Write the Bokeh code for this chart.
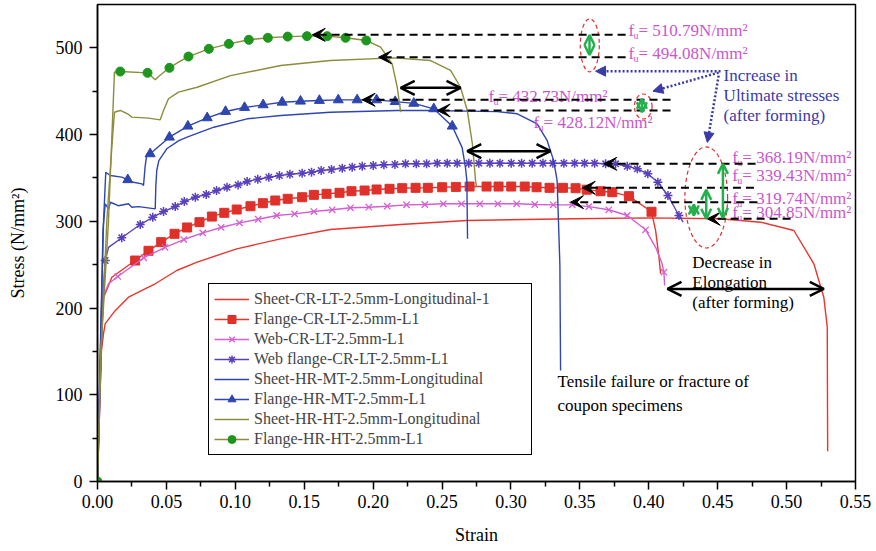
from bokeh.plotting import figure
from bokeh.models import (Range1d, FixedTicker, Legend, LegendItem, Arrow,
                          VeeHead, OpenHead, NormalHead, ColumnDataSource)
from bokeh.core.properties import value
from bokeh.embed import file_html
from bokeh.resources import INLINE

FONT = "Liberation Serif"

# ---------------- data (strain, stress N/mm2) ----------------
# Sheet-CR-LT-2.5mm-Longitudinal-1
s1_x = [0, 0.0015, 0.0028, 0.0045, 0.0056, 0.0128, 0.0225, 0.037, 0.0419, 0.0575, 0.0723, 0.101,
        0.1328, 0.169, 0.22, 0.268, 0.3457, 0.40, 0.452, 0.481, 0.5053, 0.5198, 0.527, 0.5295, 0.5298]
s1_y = [0, 80, 150, 172, 182, 197, 212.5, 224, 228, 243.3, 253, 268.3,
        279.8, 290.5, 296.3, 301, 303, 304, 303, 299, 289.4, 251, 212.5, 178, 35]

# Flange-CR-LT-2.5mm-L1 (markers = squares)
s2_mx = [0.0273, 0.037, 0.0462, 0.0559, 0.065, 0.074, 0.083, 0.092, 0.101, 0.111, 0.120, 0.129, 0.138,
         0.1485, 0.157, 0.1662, 0.1756, 0.1843, 0.1938, 0.2025, 0.2119, 0.2211, 0.2308, 0.2397, 0.2501,
         0.26, 0.27, 0.2823, 0.291, 0.3002, 0.31, 0.3186, 0.328, 0.3377, 0.3469, 0.355, 0.365, 0.3735,
         0.3856, 0.402]
s2_my = [254.8, 266, 276, 285.6, 292.9, 299, 305.5, 309.8, 313.6, 317.4, 320.9, 324, 326,
         327.8, 330.5, 331.7, 332.9, 334.7, 335.5, 336.7, 337.5, 338.2, 338.6, 338.6, 339.3,
         339.7, 340.1, 340.1, 340.1, 340.1, 340.1, 339.3, 338.6, 338.6, 338.2, 336.5, 334.7, 333.6,
         329, 311]
s2_x = [0, 0.0015, 0.003, 0.0044, 0.0104] + s2_mx + [0.405, 0.4074, 0.4086]
s2_y = [0, 95, 170, 212, 235.5] + s2_my + [289, 258.6, 239.5]

# Web-CR-LT-2.5mm-L1 (markers = x)
s3_mx = [0.0147, 0.0336, 0.049, 0.0626, 0.0764, 0.0897, 0.103, 0.1166, 0.13, 0.143, 0.157, 0.1703,
         0.1836, 0.1969, 0.2102, 0.2242, 0.2375, 0.2509, 0.2641, 0.2774, 0.2905, 0.3041, 0.3173,
         0.3307, 0.3445, 0.3566, 0.371, 0.3844, 0.3977, 0.411]
s3_my = [236.4, 258, 270, 279, 286.7, 292.9, 298.2, 302.4, 306.7, 308.6, 311.3, 313.3,
         315.6, 316.3, 317.4, 319, 319.4, 320.2, 320.2, 320.2, 320.2, 320.2, 319.4,
         319, 319, 317, 313.3, 306.7, 290.2, 241.3]
s3_x = [0, 0.0015, 0.0031, 0.008] + s3_mx[:-1] + [0.405, 0.4095, 0.411, 0.4115]
s3_y = [0, 100, 208.7, 228] + s3_my[:-1] + [270, 252, 241.3, 226]

# Web flange-CR-LT-2.5mm-L1 (markers = asterisk)
s4_mx = [0.0056, 0.0176, 0.031, 0.0401, 0.0479, 0.0564, 0.063, 0.071, 0.0789, 0.0864, 0.094, 0.102,
         0.1086, 0.1163, 0.1243, 0.132, 0.1396, 0.1485, 0.1553, 0.1623, 0.1698, 0.1776, 0.1848, 0.1921,
         0.2001, 0.2078, 0.2158, 0.2235, 0.2313, 0.2388, 0.2465, 0.2538, 0.261, 0.2694, 0.2767, 0.2847,
         0.292, 0.3002, 0.3077, 0.3154, 0.3232, 0.3304, 0.3384, 0.3462, 0.3534, 0.3607, 0.3687, 0.3759,
         0.3844, 0.3917, 0.3993, 0.4066, 0.4139, 0.4219]
s4_my = [254.8, 281, 296.3, 304.7, 311.3, 317, 322.8, 327.8, 331, 335.5, 339.3, 342,
         346, 348.5, 350.8, 352.7, 354.2, 355.5, 356.7, 358.6, 359.7, 361.2, 362.4, 363.5,
         364.3, 365.2, 365.5, 366.3, 366.3, 366.3, 367, 367, 367, 367, 367, 367,
         367, 367, 367, 367, 367, 367, 367, 367, 367, 367, 366.3, 366.3,
         363.5, 360.5, 354.8, 345, 329.8, 306.7]
s4_x = [0, 0.002, 0.004] + s4_mx[:1] + [0.008] + s4_mx[1:] + [0.425]
s4_y = [0, 110, 215] + s4_my[:1] + [270] + s4_my[1:] + [299]

# Sheet-HR-MT-2.5mm-Longitudinal
s5_x = [0, 0.002, 0.004, 0.0056, 0.008, 0.0094, 0.015, 0.0225, 0.0249, 0.03, 0.0419, 0.0423, 0.043,
        0.0445, 0.0505, 0.059, 0.065, 0.0844, 0.1086, 0.133, 0.169, 0.2175, 0.2417, 0.29, 0.3046,
        0.319, 0.3263, 0.331, 0.3335, 0.3355, 0.336]
s5_y = [0, 150, 290, 320, 314.4, 322, 318, 320.2, 316.3, 317, 314.4, 340, 358.6,
        370, 384, 393, 397, 408.5, 418.2, 422, 425.8, 427.8, 427.8, 426.5, 424,
        412.4, 393, 370, 347, 250, 128]

# Flange-HR-MT-2.5mm-L1 (markers = triangles)
s6_mx = [0.022, 0.0382, 0.0522, 0.0656, 0.0796, 0.0929, 0.1067, 0.1202, 0.134, 0.1473, 0.161, 0.1747,
         0.1884, 0.2025, 0.216, 0.2295, 0.244, 0.2574]
s6_my = [347.9, 377.8, 397, 409.7, 419.3, 426.6, 431.2, 434.3, 437.3, 438.5, 439.3, 440,
         440, 440, 438, 436, 429.7, 409.7]
s6_x = [0, 0.002, 0.0044, 0.006, 0.0092, 0.0176, 0.022, 0.0261, 0.0322, 0.0334, 0.0345, 0.0358] + \
       s6_mx[1:] + [0.2646, 0.267, 0.268, 0.2685]
s6_y = [0, 140, 301, 356.6, 352.8, 350.9, 347.9, 345, 343.2, 341.3, 362.4, 377.8] + \
       s6_my[1:] + [385, 362, 347, 280]

# Sheet-HR-HT-2.5mm-Longitudinal
s7_x = [0, 0.0025, 0.0068, 0.0104, 0.0123, 0.0165, 0.0225, 0.0249, 0.037, 0.0455, 0.0479, 0.0515,
        0.0588, 0.0723, 0.0965, 0.133, 0.169, 0.215, 0.2417, 0.2562, 0.2634, 0.2683, 0.272, 0.2743, 0.275]
s7_y = [0, 151, 301, 385.4, 425.8, 427.8, 423.2, 420.1, 419, 417, 427.8, 441.3,
        448.9, 454.6, 468, 479.6, 485.4, 488.5, 485.4, 474, 454.6, 427.8, 389.4, 347, 340]

# Flange-HR-HT-2.5mm-L1 (markers = circles)
s8_mx = [0, 0.0165, 0.0363, 0.0522, 0.066, 0.0808, 0.0953, 0.1098, 0.1236, 0.138, 0.152, 0.1667,
         0.180, 0.195]
s8_my = [0, 472.7, 471.2, 477, 490, 498.9, 504.6, 509.3, 511.6, 513, 513.5, 513.5,
         511.6, 508.5]
s8_x = [0, 0.0025, 0.008, 0.0123, 0.0165, 0.0363, 0.0419, 0.0443, 0.0522, 0.0588] + s8_mx[4:] + \
       [0.2054, 0.2138, 0.2175, 0.22]
s8_y = [0, 151, 301, 472, 472.7, 471.2, 463.2, 467, 477, 483.5] + s8_my[4:] + \
       [500.8, 481.6, 454.6, 425.8]

labels = ["Sheet-CR-LT-2.5mm-Longitudinal-1", "Flange-CR-LT-2.5mm-L1", "Web-CR-LT-2.5mm-L1",
          "Web flange-CR-LT-2.5mm-L1", "Sheet-HR-MT-2.5mm-Longitudinal", "Flange-HR-MT-2.5mm-L1",
          "Sheet-HR-HT-2.5mm-Longitudinal", "Flange-HR-HT-2.5mm-L1"]

x_ticks = [0.0, 0.05, 0.1, 0.15, 0.2, 0.25, 0.3, 0.35, 0.4, 0.45, 0.5, 0.55]
x_tick_labels = ["0.00", "0.05", "0.10", "0.15", "0.20", "0.25", "0.30", "0.35", "0.40", "0.45", "0.50", "0.55"]
x_minor = [0.025, 0.075, 0.125, 0.175, 0.225, 0.275, 0.325, 0.375, 0.425, 0.475, 0.525]
y_ticks = [0, 100, 200, 300, 400, 500]
y_minor = [50, 150, 250, 350, 450]

# ---------------- annotations ----------------
dash_x_right = [0.3832, 0.3832, 0.4158, 0.4158, 0.4775, 0.4763, 0.4787, 0.5029]
dash_x_tip = [0.1558, 0.2039, 0.192, 0.2465, 0.3674, 0.3517, 0.3432, 0.4424]
dash_y = [515.0, 489.2, 440.1, 427.8, 366.3, 338.6, 322.1, 302.9]

fu_vals = ["510.79", "494.08", "432.73", "428.12", "368.19", "339.43", "319.74", "304.85"]
fu_x = [0.3853, 0.3853, 0.2837, 0.3164, 0.4606, 0.4606, 0.4606, 0.4606]
fu_y = [520.0, 493.5, 443.9, 413.9, 373.9, 352.8, 326.0, 310.5]

elo_x0 = [0.22, 0.2683, 0.4136]
elo_x1 = [0.2634, 0.3287, 0.527]
elo_y = [454, 380.8, 222]

grn_x = [0.357, 0.395, 0.4538, 0.4417, 0.4327]
grn_y0 = [491.7, 425.8, 304.0, 303.0, 306.7]
grn_y1 = [514.8, 441.3, 366.2, 336.3, 319.4]

ell_x = [0.3572, 0.396, 0.4417]
ell_y = [502.9, 432.4, 327.5]
ell_w = [0.0138, 0.0128, 0.031]
ell_h = [61, 28.8, 116.5]

blu_x0 = [0.4521, 0.4507, 0.4507]
blu_y0 = [473.1, 471.5, 468.0]
blu_x1 = [0.3614, 0.403, 0.4425]
blu_y1 = [473.1, 450.0, 390.9]

inc_text = ["Increase in", "Ultimate stresses", "(after forming)"]
inc_x = [0.4543, 0.4543, 0.4543]
inc_y = [468.1, 445.0, 422.0]
dec_text = ["Decrease in", "Elongation", "(after forming)"]
dec_x = [0.4316, 0.4316, 0.4316]
dec_y = [252.9, 229.8, 206.7]
ten_text = ["Tensile failure or fracture of", "coupon specimens"]
ten_x = [0.3338, 0.3338]
ten_y = [115.3, 87.6]

# ---------------- figure ----------------
p = figure(width=876, height=551, x_range=Range1d(0, 0.55), y_range=Range1d(0, 550),
           output_backend="svg", toolbar_location=None,
           min_border_left=97, min_border_right=21, min_border_top=4, min_border_bottom=70)
p.xgrid.visible = False
p.ygrid.visible = False
p.outline_line_color = "black"
p.outline_line_width = 1.5
p.outline_line_alpha = 1.0
p.background_fill_color = "white"

p.xaxis.ticker = FixedTicker(ticks=x_ticks, minor_ticks=x_minor)
p.xaxis.major_label_overrides = {t: l for t, l in zip(x_ticks, x_tick_labels)}
p.yaxis.ticker = FixedTicker(ticks=y_ticks, minor_ticks=y_minor)
p.xaxis.axis_label = "Strain"
p.yaxis.axis_label = "Stress (N/mm\u00b2)"
for ax in (p.xaxis[0], p.yaxis[0]):
    ax.axis_line_width = 1.5
    ax.axis_line_color = "black"
    ax.major_tick_line_width = 1.5
    ax.minor_tick_line_width = 1.5
    ax.major_tick_line_color = "black"
    ax.minor_tick_line_color = "black"
    ax.major_tick_out = 8
    ax.major_tick_in = 0
    ax.minor_tick_out = 5
    ax.minor_tick_in = 0
    ax.major_label_text_font = FONT
    ax.major_label_text_font_size = "18px"
    ax.major_label_text_color = "black"
    ax.axis_label_text_font = FONT
    ax.axis_label_text_font_size = "18px"
    ax.axis_label_text_font_style = "normal"
    ax.axis_label_text_color = "black"
p.xaxis.major_label_standoff = 5
p.xaxis.axis_label_standoff = 14
p.yaxis.major_label_standoff = 7
p.yaxis.axis_label_standoff = 25

C_RED = "#e8352e"
C_PINK = "#d35fd3"
C_PURP = "#5b40bd"
C_BLUE = "#2f45b0"
C_OLIVE = "#8c8c3c"
C_GREEN = "#1e961e"

items = []
r = p.line(s1_x, s1_y, line_color=C_RED, line_width=1.4)
items.append(LegendItem(label=labels[0], renderers=[r]))

r = p.line(s2_x, s2_y, line_color=C_RED, line_width=1.4)
m = p.scatter(s2_mx, s2_my, marker="square", size=9, fill_color="#e0302a", line_color="#e0302a")
items.append(LegendItem(label=labels[1], renderers=[r, m]))

r = p.line(s3_x, s3_y, line_color=C_PINK, line_width=1.4)
m = p.scatter(s3_mx, s3_my, marker="x", size=9, line_color=C_PINK, line_width=1.3)
items.append(LegendItem(label=labels[2], renderers=[r, m]))

r = p.line(s4_x, s4_y, line_color=C_PURP, line_width=1.4)
m = p.scatter(s4_mx, s4_my, marker="asterisk", size=9, line_color=C_PURP, line_width=1.5)
items.append(LegendItem(label=labels[3], renderers=[r, m]))

r = p.line(s5_x, s5_y, line_color=C_BLUE, line_width=1.4)
items.append(LegendItem(label=labels[4], renderers=[r]))

r = p.line(s6_x, s6_y, line_color=C_BLUE, line_width=1.4)
m = p.scatter(s6_mx, s6_my, marker="triangle", size=10, fill_color=C_BLUE, line_color=C_BLUE)
items.append(LegendItem(label=labels[5], renderers=[r, m]))

r = p.line(s7_x, s7_y, line_color=C_OLIVE, line_width=1.4)
items.append(LegendItem(label=labels[6], renderers=[r]))

r = p.line(s8_x, s8_y, line_color=C_OLIVE, line_width=1.4)
m = p.scatter(s8_mx, s8_my, marker="circle", size=9, fill_color=C_GREEN, line_color=C_GREEN)
items.append(LegendItem(label=labels[7], renderers=[r, m]))

legend = Legend(items=items, location=(111, 26), label_text_font=FONT,
                label_text_font_size="16px", label_height=20, glyph_height=20, glyph_width=35,
                spacing=0, padding=5, margin=0, label_standoff=5, label_width=272,
                border_line_color="black", border_line_width=1, border_line_alpha=1,
                background_fill_color="white", background_fill_alpha=1)
p.add_layout(legend)

# ---- texts ----
C_MAG = "#cc55cc"
C_BTXT = "#3a3aa8"
p.text(x=fu_x, y=fu_y, text=["f"] * len(fu_x), text_font=value(FONT), text_font_size="17px",
       text_color=C_MAG, text_baseline="middle", text_align="left")
p.text(x=fu_x, y=fu_y, text=["u"] * len(fu_x), text_font=value(FONT), text_font_size="10px",
       text_color=C_MAG, text_baseline="middle", text_align="left", x_offset=5, y_offset=5)
p.text(x=fu_x, y=fu_y, text=["= " + v + "N/mm\u00b2" for v in fu_vals], text_font=value(FONT),
       text_font_size="17px", text_color=C_MAG, text_baseline="middle", text_align="left", x_offset=10)
p.text(x=inc_x, y=inc_y, text=inc_text, text_font=value(FONT), text_font_size="17px",
       text_color=C_BTXT, text_baseline="middle", text_align="left")
p.text(x=dec_x, y=dec_y, text=dec_text, text_font=value(FONT), text_font_size="17px",
       text_color="black", text_baseline="middle", text_align="left")
p.text(x=ten_x, y=ten_y, text=ten_text, text_font=value(FONT), text_font_size="17px",
       text_color="black", text_baseline="middle", text_align="left")

# ---- ellipses ----
p.ellipse(x=ell_x, y=ell_y, width=ell_w, height=ell_h, fill_color=None, line_color="#e03030",
          line_dash="4 3", line_width=1.2)

# ---- dashed leaders ----
src_d = ColumnDataSource(dict(x0=dash_x_right, y0=dash_y, x1=dash_x_tip, y1=dash_y))
p.add_layout(Arrow(end=VeeHead(size=13, fill_color="black", line_color="black", line_width=1),
                   x_start="x0", y_start="y0", x_end="x1", y_end="y1", source=src_d,
                   line_color="black", line_width=2, line_dash="8 5"))

# ---- black double arrows ----
src_e = ColumnDataSource(dict(x0=elo_x0, x1=elo_x1, y=elo_y))
p.add_layout(Arrow(start=OpenHead(size=14, line_width=2.5, line_color="black"),
                   end=OpenHead(size=14, line_width=2.5, line_color="black"),
                   x_start="x0", y_start="y", x_end="x1", y_end="y", source=src_e,
                   line_color="black", line_width=2.5))

# ---- green double arrows ----
C_GA = "#22b04c"
src_g = ColumnDataSource(dict(x=grn_x, y0=grn_y0, y1=grn_y1))
p.add_layout(Arrow(start=OpenHead(size=10, line_width=2.5, line_color=C_GA),
                   end=OpenHead(size=10, line_width=2.5, line_color=C_GA),
                   x_start="x", y_start="y0", x_end="x", y_end="y1", source=src_g,
                   line_color=C_GA, line_width=2.5))

# ---- blue dotted arrows ----
src_b = ColumnDataSource(dict(x0=blu_x0, y0=blu_y0, x1=blu_x1, y1=blu_y1))
p.add_layout(Arrow(end=NormalHead(size=10, fill_color=C_BTXT, line_color=C_BTXT, line_width=1),
                   x_start="x0", y_start="y0", x_end="x1", y_end="y1", source=src_b,
                   line_color=C_BTXT, line_width=2.5, line_dash="2 2"))

open("out.html", "w").write(file_html(p, INLINE))
